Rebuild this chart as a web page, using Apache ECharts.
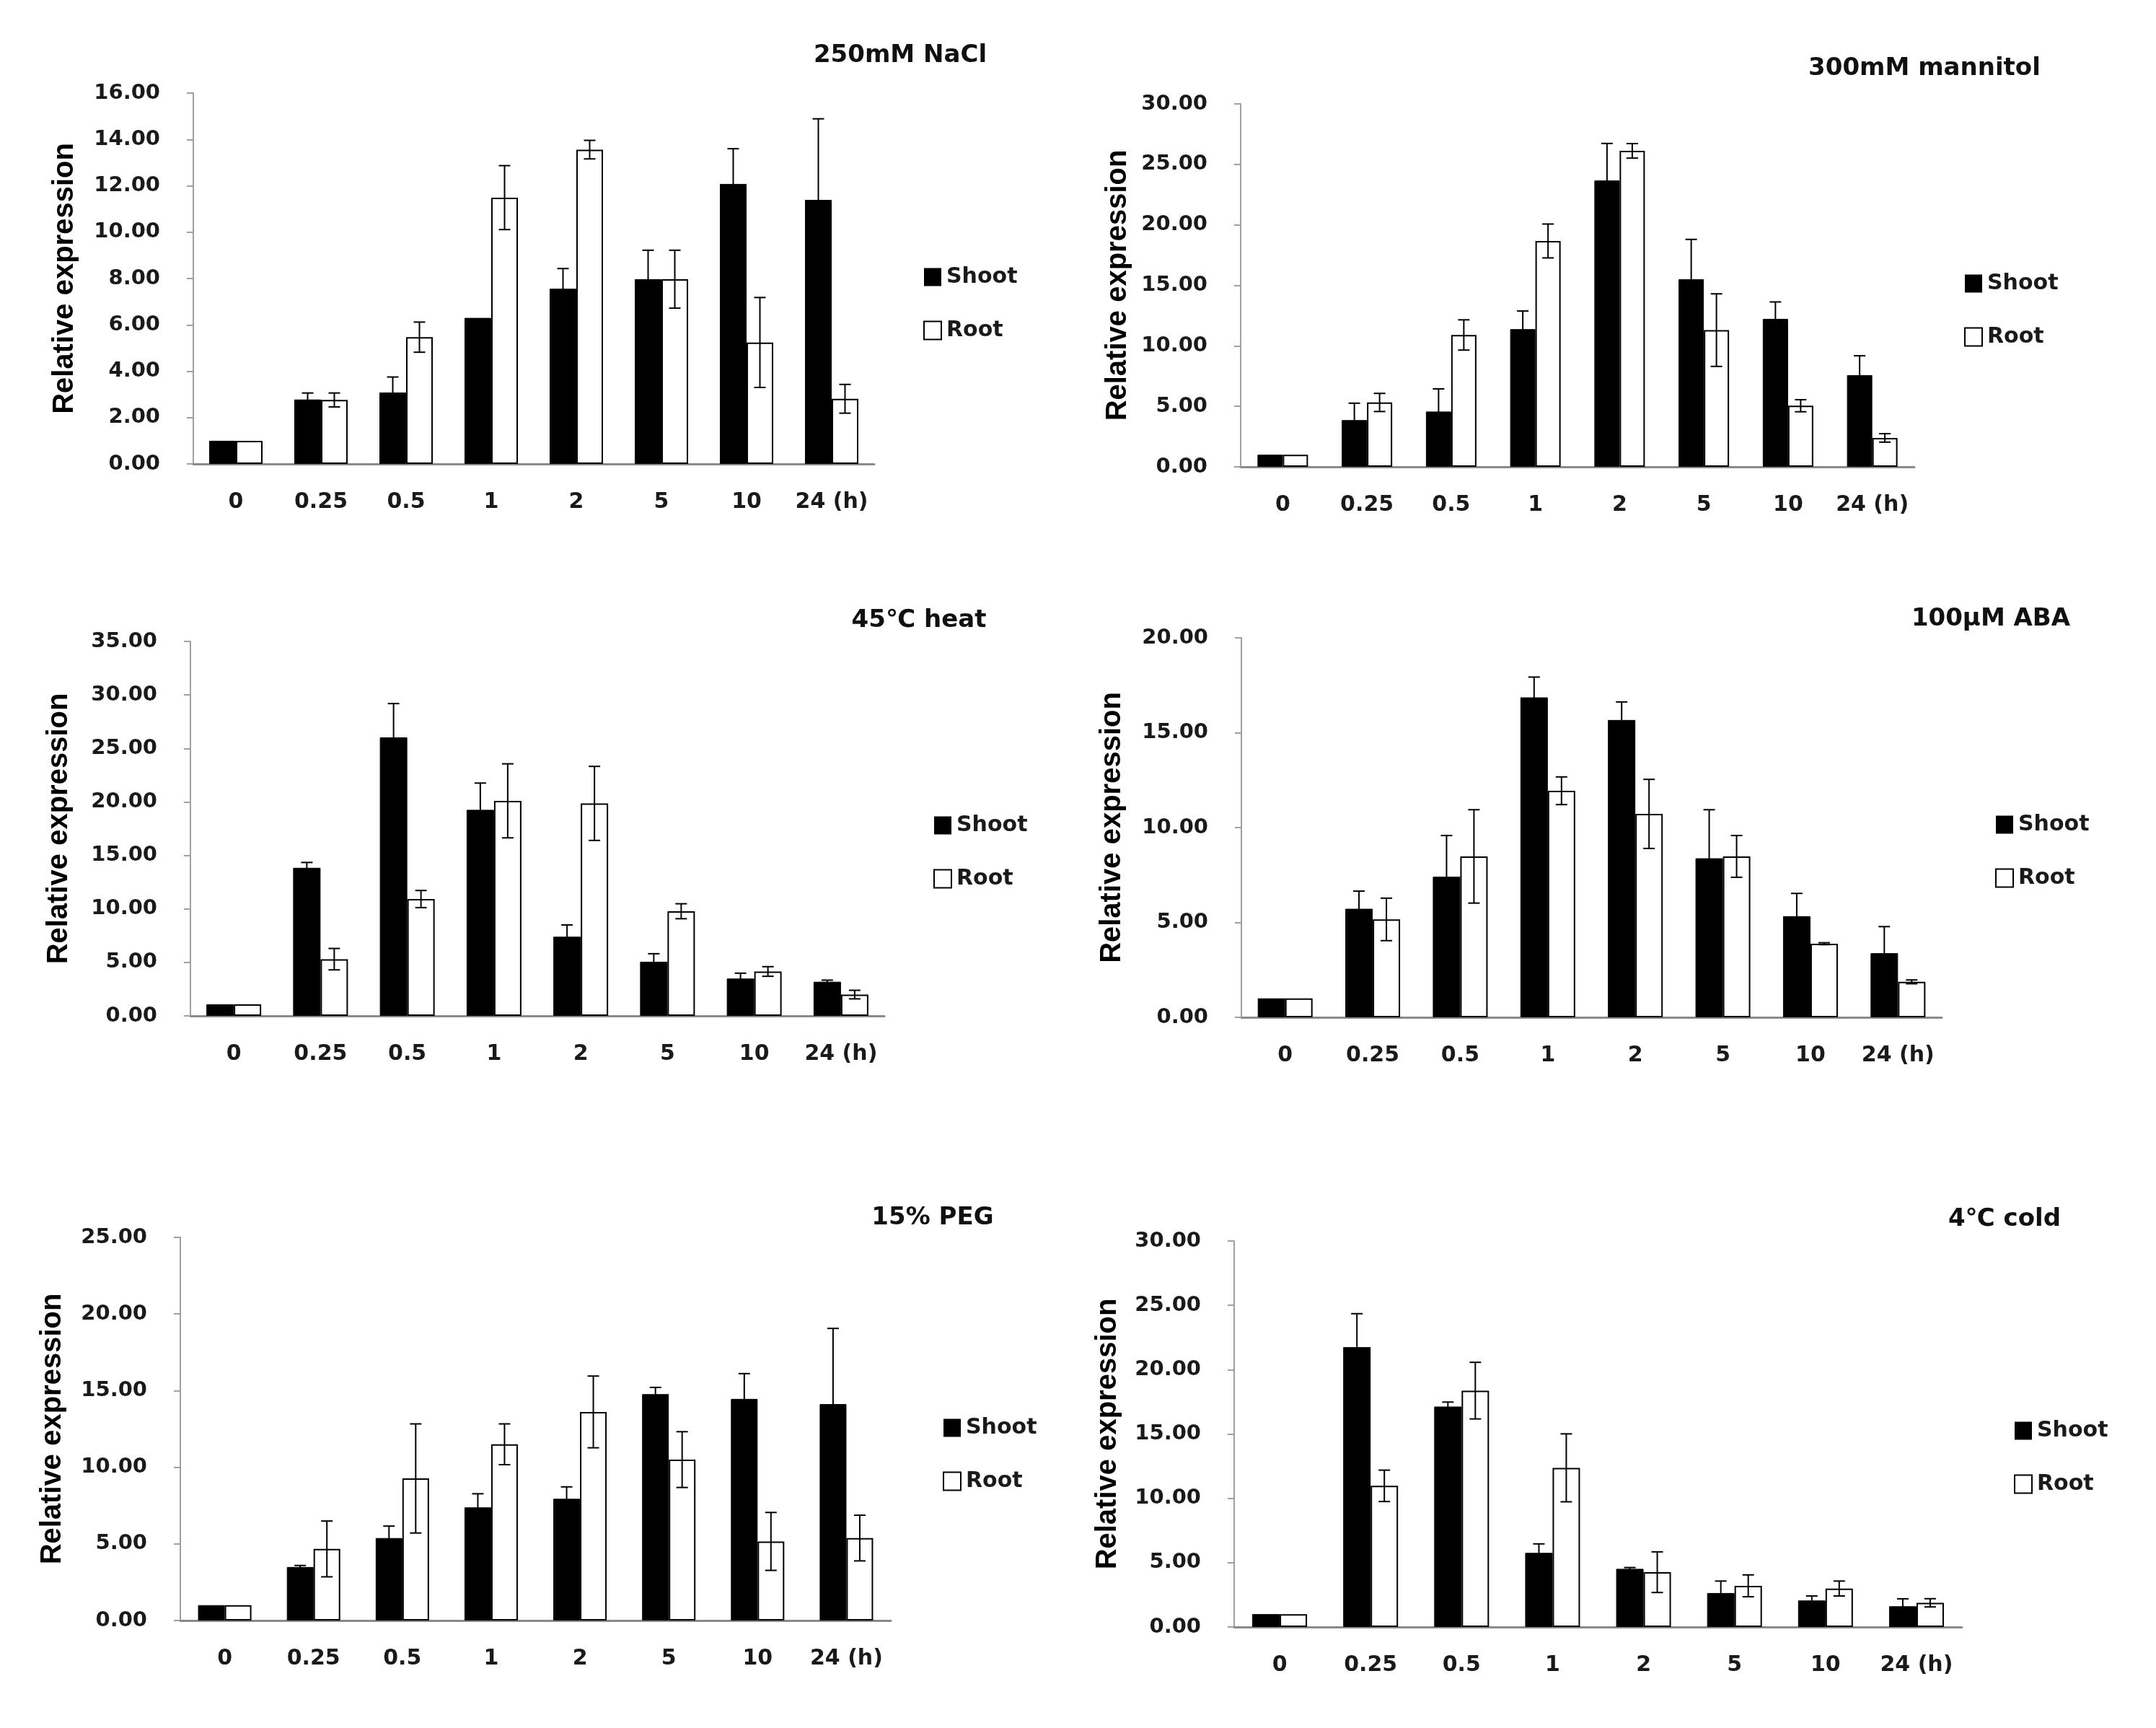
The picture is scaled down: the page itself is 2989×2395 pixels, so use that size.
<!DOCTYPE html>
<html>
<head>
<meta charset="utf-8">
<script src="https://cdn.jsdelivr.net/npm/echarts@6/dist/echarts.min.js"></script>
<style>
	html, body { margin: 0; padding: 0; background: #fff; }
	#chart { width: 2989px; height: 2395px; }
</style>
</head>
<body>
<div id="chart"></div>
<script>
	// time points (h)
	var times = ['0', '0.25', '0.5', '1', '2', '5', '10', '24 (h)'];

	// 250mM NaCl
	var naclShoot = [1.00, 2.78, 3.08, 6.30, 7.56, 7.97, 12.08, 11.39];
	var naclShootErr = [0, 0.28, 0.67, 0, 0.87, 1.25, 1.52, 3.50];
	var naclRoot = [1.00, 2.76, 5.47, 11.49, 13.56, 7.97, 5.24, 2.81];
	var naclRootErr = [0, 0.30, 0.65, 1.38, 0.40, 1.25, 1.94, 0.62];

	// 300mM mannitol
	var manShoot = [1.00, 3.86, 4.57, 11.38, 23.67, 15.50, 12.23, 7.58];
	var manShootErr = [0, 1.40, 1.87, 1.50, 3.06, 3.30, 1.40, 1.60];
	var manRoot = [1.00, 5.32, 10.90, 18.67, 26.12, 11.30, 5.05, 2.39];
	var manRootErr = [0, 0.75, 1.25, 1.40, 0.60, 3.00, 0.50, 0.35];

	// 45℃ heat
	var heatShoot = [1.08, 13.84, 26.03, 19.26, 7.40, 5.06, 3.49, 3.19];
	var heatShootErr = [0, 0.50, 3.16, 2.50, 1.10, 0.75, 0.50, 0.15];
	var heatRoot = [1.08, 5.30, 10.92, 20.10, 19.86, 9.78, 4.15, 1.99];
	var heatRootErr = [0, 1.00, 0.80, 3.46, 3.46, 0.70, 0.45, 0.40];

	// 100μM ABA
	var abaShoot = [1.00, 5.72, 7.41, 16.86, 15.67, 8.38, 5.33, 3.38];
	var abaShootErr = [0, 0.93, 2.17, 1.07, 0.95, 2.56, 1.20, 1.40];
	var abaRoot = [1.00, 5.16, 8.48, 11.94, 10.72, 8.48, 3.88, 1.87];
	var abaRootErr = [0, 1.12, 2.46, 0.73, 1.82, 1.10, 0.05, 0.10];

	// 15% PEG
	var pegShoot = [1.00, 3.49, 5.38, 7.38, 7.94, 14.77, 14.46, 14.12];
	var pegShootErr = [0, 0.10, 0.78, 0.89, 0.78, 0.44, 1.65, 4.94];
	var pegRoot = [1.00, 4.67, 9.27, 11.50, 13.61, 10.50, 5.16, 5.38];
	var pegRootErr = [0, 1.82, 3.56, 1.33, 2.34, 1.82, 1.89, 1.49];

	// 4℃ cold
	var coldShoot = [1.00, 21.75, 17.13, 5.76, 4.52, 2.64, 2.06, 1.61];
	var coldShootErr = [0, 2.60, 0.35, 0.70, 0.10, 0.93, 0.35, 0.58];
	var coldRoot = [1.00, 10.97, 18.37, 12.37, 4.26, 3.20, 2.99, 1.88];
	var coldRootErr = [0, 1.22, 2.20, 2.64, 1.58, 0.85, 0.58, 0.32];

	var titles = ['250mM NaCl', '300mM mannitol', '45℃ heat', '100μM ABA', '15% PEG', '4℃ cold'];
	var yMax = [16, 30, 35, 20, 25, 30];
	var yStep = [2, 5, 5, 5, 5, 5];

	var panelData = [
		[naclShoot, naclShootErr, naclRoot, naclRootErr],
		[manShoot, manShootErr, manRoot, manRootErr],
		[heatShoot, heatShootErr, heatRoot, heatRootErr],
		[abaShoot, abaShootErr, abaRoot, abaRootErr],
		[pegShoot, pegShootErr, pegRoot, pegRootErr],
		[coldShoot, coldShootErr, coldRoot, coldRootErr]
	];

	// layout of each panel, in page pixels
	var layout = [
		{ left: 268, top: 129, width: 944, height: 514, bar: 37, nameGap: 158, title: [1248, 77], legend: [1275, 364] },
		{ left: 1720, top: 144, width: 934, height: 503, bar: 35, nameGap: 150, title: [2668, 95], legend: [2718, 373] },
		{ left: 264, top: 889, width: 962, height: 519, bar: 38, nameGap: 162, title: [1274, 860], legend: [1289, 1124] },
		{ left: 1721, top: 884, width: 971, height: 526, bar: 38, nameGap: 159, title: [2760, 858], legend: [2761, 1123] },
		{ left: 250, top: 1715, width: 985, height: 531, bar: 37, nameGap: 157, title: [1293, 1688], legend: [1302, 1959] },
		{ left: 1711, top: 1720, width: 1009, height: 535, bar: 38, nameGap: 155, title: [2779, 1690], legend: [2787, 1963] }
	];

	var tickFont = 'DejaVu Sans';
	var axisGray = '#8a8a8a';

	// error bar drawn on top of one bar of the pair (side -1 = shoot, +1 = root)
	function errBar(side, barW) {
		return function (params, api) {
			var idx = api.value(0), val = api.value(1), err = api.value(2);
			if (!err) return;
			var hi = api.coord([idx, val + err]);
			var lo = api.coord([idx, val - err]);
			var x = hi[0] + side * barW / 2;
			var cap = 8;
			var st = { stroke: '#000', lineWidth: 2 };
			return {
				type: 'group',
				children: [
					{ type: 'line', shape: { x1: x, y1: hi[1], x2: x, y2: lo[1] }, style: st },
					{ type: 'line', shape: { x1: x - cap, y1: hi[1], x2: x + cap, y2: hi[1] }, style: st },
					{ type: 'line', shape: { x1: x - cap, y1: lo[1], x2: x + cap, y2: lo[1] }, style: st }
				]
			};
		};
	}

	var grids = [], xAxes = [], yAxes = [], series = [], legends = [], titleList = [];

	layout.forEach(function (p, i) {
		var d = panelData[i];
		grids.push({ left: p.left, top: p.top, width: p.width, height: p.height });

		xAxes.push({
			type: 'category',
			gridIndex: i,
			data: times,
			axisTick: { show: false },
			axisLine: { lineStyle: { color: axisGray, width: 3 } },
			axisLabel: {
				interval: 0,
				hideOverlap: false,
				margin: 38,
				fontFamily: tickFont,
				fontWeight: 'bold',
				fontSize: 30,
				color: '#1a1a1a'
			}
		});

		yAxes.push({
			type: 'value',
			gridIndex: i,
			min: 0,
			max: yMax[i],
			interval: yStep[i],
			name: 'Relative expression',
			nameLocation: 'middle',
			nameGap: p.nameGap,
			nameTextStyle: {
				fontFamily: 'Liberation Sans',
				fontWeight: 'bold',
				fontSize: 40,
				color: '#000'
			},
			axisLine: { show: true, lineStyle: { color: '#a0a0a0', width: 2 } },
			axisTick: { show: true, length: 9, lineStyle: { color: '#a0a0a0', width: 2 } },
			splitLine: { show: false },
			axisLabel: {
				margin: 46,
				fontFamily: tickFont,
				fontWeight: 'bold',
				fontSize: 29,
				color: '#1a1a1a',
				formatter: function (v) { return v.toFixed(2); }
			}
		});

		series.push({
			name: 'Shoot',
			type: 'bar',
			xAxisIndex: i,
			yAxisIndex: i,
			barWidth: p.bar,
			barGap: '0%',
			itemStyle: { color: '#000', borderColor: '#000', borderWidth: 1 },
			data: d[0]
		});
		series.push({
			name: 'Root',
			type: 'bar',
			xAxisIndex: i,
			yAxisIndex: i,
			barWidth: p.bar,
			barGap: '0%',
			itemStyle: { color: '#fff', borderColor: '#000', borderWidth: 2 },
			data: d[2]
		});
		series.push({
			type: 'custom',
			xAxisIndex: i,
			yAxisIndex: i,
			z: 5,
			silent: true,
			renderItem: errBar(-1, p.bar),
			encode: { x: 0, y: 1 },
			data: d[0].map(function (v, k) { return [k, v, d[1][k]]; })
		});
		series.push({
			type: 'custom',
			xAxisIndex: i,
			yAxisIndex: i,
			z: 5,
			silent: true,
			renderItem: errBar(1, p.bar),
			encode: { x: 0, y: 1 },
			data: d[2].map(function (v, k) { return [k, v, d[3][k]]; })
		});

		legends.push({
			orient: 'vertical',
			left: p.legend[0],
			top: p.legend[1],
			itemWidth: 24,
			itemHeight: 25,
			itemGap: 44,
			selectedMode: false,
			textStyle: {
				fontFamily: tickFont,
				fontWeight: 'bold',
				fontSize: 30,
				color: '#1a1a1a',
				padding: [0, 0, 0, 2]
			},
			data: [
				{ name: 'Shoot', icon: 'rect', itemStyle: { color: '#000', borderWidth: 0 } },
				{ name: 'Root', icon: 'rect', itemStyle: { color: '#fff', borderColor: '#000', borderWidth: 2 } }
			]
		});

		titleList.push({
			text: titles[i],
			left: p.title[0],
			top: p.title[1],
			textAlign: 'center',
			textVerticalAlign: 'middle',
			padding: 0,
			textStyle: {
				fontFamily: tickFont + ', Noto Sans CJK SC',
				fontWeight: 'bold',
				fontSize: 34,
				color: '#111'
			}
		});
	});

	var chart = echarts.init(document.getElementById('chart'));
	chart.setOption({
		backgroundColor: '#fff',
		animation: false,
		title: titleList,
		legend: legends,
		grid: grids,
		xAxis: xAxes,
		yAxis: yAxes,
		series: series
	});
</script>
</body>
</html>
